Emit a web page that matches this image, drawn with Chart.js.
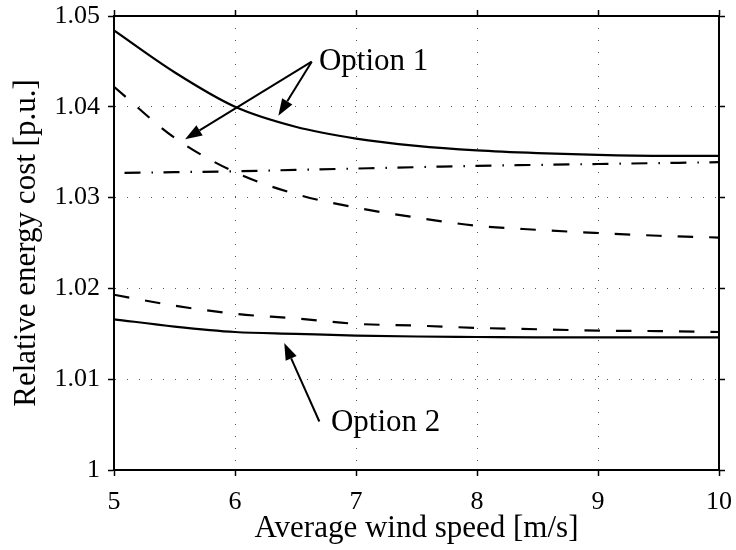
<!DOCTYPE html>
<html>
<head>
<meta charset="utf-8">
<script src="https://cdn.jsdelivr.net/npm/chart.js@4"></script>
<style>
  html, body { margin: 0; padding: 0; background: #fff; }
  #wrap { width: 736px; height: 550px; position: relative; }
</style>
</head>
<body>
<div id="wrap"><canvas id="costChart"></canvas></div>
<script>
// wind speed samples [m/s]
const windSpeed = [5, 5.5, 6, 6.5, 7, 7.5, 8, 8.5, 9, 9.5, 10];

// relative energy cost [p.u.]
const opt1Solid = [1.0484, 1.0438, 1.0400, 1.0378, 1.0365, 1.0357, 1.0352, 1.0349, 1.0347, 1.0346, 1.0346];
const opt1Dashed = [1.0422, 1.0366, 1.0328, 1.0304, 1.0289, 1.0278, 1.0269, 1.02645, 1.0261, 1.0258, 1.0256];
const dashDot = [1.0327, 1.0328, 1.0329, 1.03305, 1.0332, 1.03335, 1.0335, 1.0336, 1.0337, 1.0338, 1.0339];
const opt2Dashed = [1.0193, 1.0181, 1.0172, 1.0167, 1.0161, 1.0159, 1.01565, 1.0155, 1.01535, 1.0153, 1.0152];
const opt2Solid = [1.0166, 1.0158, 1.0152, 1.0150, 1.0148, 1.0147, 1.01465, 1.0146, 1.0146, 1.0146, 1.0146];

const xTicks = [5, 6, 7, 8, 9, 10];
const yTicks = [1, 1.01, 1.02, 1.03, 1.04, 1.05];

// annotation text and arrows, in data units
const labels = [
  { text: "Option 1", x: 6.694, y: 1.04499 },
  { text: "Option 2", x: 6.793, y: 1.00514 },
];
const arrows = [
  { from: [6.634, 1.04497], to: [5.587, 1.03643] },
  { from: [6.634, 1.04497], to: [6.358, 1.03901] },
  { from: [6.697, 1.00534], to: [6.407, 1.0140] },
];

const SERIF = "'Liberation Serif', 'Times New Roman', serif";
Chart.defaults.font.family = SERIF;
Chart.defaults.color = "#000";

const pts = (ys) => windSpeed.map((x, i) => ({ x, y: ys[i] }));

function series(data, dash, offset = 0) {
  return {
    data: pts(data), borderColor: "#000", borderWidth: 2.2, borderDash: dash, borderDashOffset: offset,
    pointRadius: 0, fill: false, cubicInterpolationMode: "monotone", xAxisID: "x", yAxisID: "y",
  };
}

const annotate = {
  id: "annotate",
  afterDatasetsDraw(chart) {
    const { ctx, scales: { x, y } } = chart;
    ctx.save();
    ctx.strokeStyle = "#000";
    ctx.fillStyle = "#000";
    ctx.lineWidth = 2;
    arrows.forEach((a) => {
      const x0 = x.getPixelForValue(a.from[0]), y0 = y.getPixelForValue(a.from[1]);
      const x1 = x.getPixelForValue(a.to[0]), y1 = y.getPixelForValue(a.to[1]);
      const ang = Math.atan2(y1 - y0, x1 - x0);
      const len = 17, half = 6;
      const bx = x1 - len * Math.cos(ang), by = y1 - len * Math.sin(ang);
      ctx.beginPath();
      ctx.moveTo(x0, y0);
      ctx.lineTo(bx, by);
      ctx.stroke();
      ctx.beginPath();
      ctx.moveTo(x1, y1);
      ctx.lineTo(bx + half * Math.sin(ang), by - half * Math.cos(ang));
      ctx.lineTo(bx - half * Math.sin(ang), by + half * Math.cos(ang));
      ctx.closePath();
      ctx.fill();
    });
    ctx.font = "31px " + SERIF;
    ctx.textBaseline = "middle";
    ctx.textAlign = "left";
    labels.forEach((l) => ctx.fillText(l.text, x.getPixelForValue(l.x), y.getPixelForValue(l.y)));
    ctx.restore();
  },
};

const gridMain = {
  color: "#555", lineWidth: 1,
  drawTicks: true, tickLength: 6, tickColor: "#000", tickWidth: 1.5, tickBorderDash: [],
};
const gridMirror = { drawOnChartArea: false, drawTicks: true, tickLength: 6, tickColor: "#000", tickWidth: 1.5 };
const borderMain = { display: true, color: "#000", width: 2, dash: [1, 11] };
const border = { display: true, color: "#000", width: 2 };

// fixed box sizes so the plot area sits where it does in the figure
function fixHeight(h) {
  return (s) => { s.height = h; s.paddingLeft = 0; s.paddingRight = 0; };
}
function fixWidth(w) {
  return (s) => { s.width = w; s.paddingTop = 0; s.paddingBottom = 0; };
}

new Chart(document.getElementById("costChart"), {
  type: "line",
  data: {
    datasets: [
      series(opt1Solid, []),
      series(opt1Dashed, [15.5, 16]),
      series(dashDot, [16, 11, 1.5, 10.5], 28.5),
      series(opt2Dashed, [15.5, 16]),
      series(opt2Solid, []),
    ],
  },
  options: {
    responsive: true, maintainAspectRatio: false, animation: false,
    layout: { padding: 0 },
    plugins: { legend: { display: false }, tooltip: { enabled: false } },
    scales: {
      x: {
        type: "linear", position: "bottom", min: 5, max: 10,
        afterBuildTicks: (s) => { s.ticks = xTicks.map((v) => ({ value: v })); },
        ticks: { font: { size: 26 }, padding: 11, maxRotation: 0 },
        grid: gridMain, border: borderMain,
        title: { display: true, text: "Average wind speed [m/s]", font: { size: 31 }, padding: { top: 0, bottom: 3 } },
        afterFit: fixHeight(80),
      },
      x2: {
        type: "linear", position: "top", min: 5, max: 10, display: true,
        afterBuildTicks: (s) => { s.ticks = xTicks.map((v) => ({ value: v })); },
        ticks: { display: false }, grid: gridMirror, border,
        afterFit: fixHeight(16),
      },
      y: {
        type: "linear", position: "left", min: 1, max: 1.05,
        afterBuildTicks: (s) => { s.ticks = yTicks.map((v) => ({ value: v })); },
        ticks: { font: { size: 26 }, padding: 8, callback: (v) => String(Number(v.toFixed(2))) },
        grid: gridMain, border: borderMain,
        title: { display: true, text: "Relative energy cost [p.u.]", font: { size: 31 }, padding: { top: 8, bottom: 0 } },
        afterFit: fixWidth(114),
      },
      y2: {
        type: "linear", position: "right", min: 1, max: 1.05, display: true,
        afterBuildTicks: (s) => { s.ticks = yTicks.map((v) => ({ value: v })); },
        ticks: { display: false }, grid: gridMirror, border,
        afterFit: fixWidth(17),
      },
    },
  },
  plugins: [annotate],
});
</script>
</body>
</html>
